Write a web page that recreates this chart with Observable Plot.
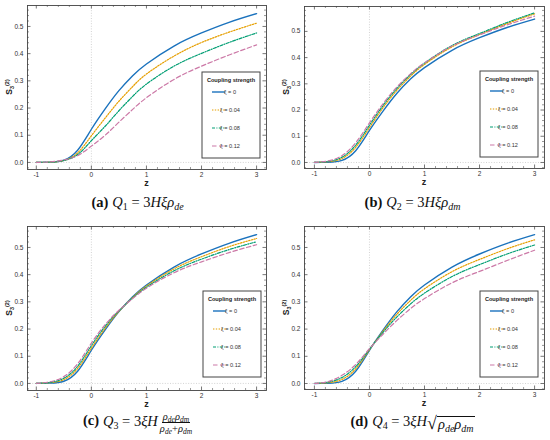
<!DOCTYPE html>
<html>
<head>
<meta charset="utf-8">
<script src="https://cdn.jsdelivr.net/npm/d3@7"></script>
<script src="https://cdn.jsdelivr.net/npm/@observablehq/plot@0.6"></script>
<style>
  body { margin: 0; background: #fff; }
  #root { position: relative; width: 550px; height: 440px; overflow: hidden; }
  .cell { position: absolute; width: 275px; height: 220px; }
  .cap { position: absolute; left: 0; top: 188px; width: 275px; height: 28px; display: flex; align-items: center; justify-content: center;
         font-family: "Liberation Serif", "DejaVu Serif", serif; font-size: 14.5px; color: #111; white-space: nowrap; }
  .cap b { font-weight: bold; margin-right: 4px; }
  .cap sub { font-size: 10px; vertical-align: -3px; line-height: 0; }
  .frac { display: inline-flex; flex-direction: column; align-items: center; vertical-align: middle; font-size: 10.5px; line-height: 11px; margin-left: 2px; }
  .frac .num { border-bottom: 0.8px solid #111; padding: 0 1px; }
  .frac sub { font-size: 7.5px; vertical-align: -2px; }
  .sqrt { display: inline-flex; align-items: flex-end; vertical-align: -3px; }
  .sqrt .rad { border-top: 0.8px solid #111; padding: 0 1px; line-height: 15px; }
</style>
</head>
<body>
<div id="root"></div>
<script>
// ---- data ----
const zValues = [-1, -0.75, -0.5, -0.25, 0, 0.25, 0.5, 0.75, 1, 1.5, 2, 2.5, 3];
const xiLabels = ["ξ = 0", "ξ = 0.04", "ξ = 0.08", "ξ = 0.12"];
const legendTitle = "Coupling strength";
const majorX = [-1, 0, 1, 2, 3];
const majorY = [0, 0.1, 0.2, 0.3, 0.4, 0.5];

// xi = 0 (same in all panels)
const xi0 = [0, 0.001, 0.008, 0.045, 0.122, 0.197, 0.264, 0.319, 0.362, 0.428, 0.476, 0.515, 0.547];

// (a) Q1
const q1Xi004 = [0, 0.001, 0.007, 0.035, 0.098, 0.163, 0.225, 0.279, 0.325, 0.391, 0.441, 0.479, 0.512];
const q1Xi008 = [0, 0.001, 0.007, 0.029, 0.08, 0.133, 0.19, 0.243, 0.288, 0.354, 0.401, 0.441, 0.476];
const q1Xi012 = [0, 0.002, 0.009, 0.025, 0.06, 0.1, 0.148, 0.195, 0.238, 0.305, 0.354, 0.395, 0.432];

// (b) Q2
const q2Xi004 = [0, 0.003, 0.015, 0.058, 0.133, 0.21, 0.276, 0.33, 0.374, 0.441, 0.488, 0.53, 0.567];
const q2Xi008 = [0, 0.004, 0.02, 0.066, 0.142, 0.218, 0.283, 0.336, 0.379, 0.446, 0.492, 0.534, 0.571];
const q2Xi012 = [0, 0.006, 0.026, 0.075, 0.151, 0.225, 0.288, 0.339, 0.38, 0.444, 0.487, 0.525, 0.558];

// (c) Q3
const q3Xi004 = [0, 0.003, 0.014, 0.055, 0.13, 0.203, 0.265, 0.316, 0.358, 0.421, 0.466, 0.503, 0.533];
const q3Xi008 = [0, 0.004, 0.019, 0.063, 0.139, 0.21, 0.267, 0.314, 0.354, 0.414, 0.457, 0.492, 0.521];
const q3Xi012 = [0, 0.006, 0.025, 0.072, 0.148, 0.216, 0.269, 0.312, 0.35, 0.407, 0.447, 0.481, 0.51];

// (d) Q4
const q4Xi004 = [0, 0.003, 0.015, 0.054, 0.124, 0.193, 0.255, 0.306, 0.348, 0.411, 0.456, 0.495, 0.528];
const q4Xi008 = [0, 0.005, 0.022, 0.062, 0.126, 0.189, 0.245, 0.293, 0.332, 0.393, 0.437, 0.476, 0.509];
const q4Xi012 = [0, 0.007, 0.03, 0.07, 0.128, 0.182, 0.232, 0.276, 0.312, 0.37, 0.412, 0.452, 0.49];

// ---- styles ----
const styles = [
  {color: "#1a72bd", width: 1.4, dash: null},
  {color: "#e69f00", width: 1.2, dash: "1.4,1.4"},
  {color: "#009e73", width: 1.2, dash: "3,1.4,1,1.4"},
  {color: "#cc79a7", width: 1.2, dash: "4.5,2.5"}
];

const panels = [
  {left: 0, top: 0, series: [xi0, q1Xi004, q1Xi008, q1Xi012],
   m: {l: 27, r: 9, t: 5, b: 21}, xd: [-1.16, 3.18], yd: [-0.026, 0.577], leg: {x: 202, y: 72},
   cap: '<span><b>(a)</b><i>Q</i><sub>1</sub>&nbsp;=&nbsp;3<i>Hξρ</i><sub><i>de</i></sub></span>'},
  {left: 275, top: 0, series: [xi0, q2Xi004, q2Xi008, q2Xi012],
   m: {l: 29, r: 6, t: 6, b: 22}, xd: [-1.18, 3.18], yd: [-0.023, 0.595], leg: {x: 205, y: 71},
   cap: '<span><b>(b)</b><i>Q</i><sub>2</sub>&nbsp;=&nbsp;3<i>Hξρ</i><sub><i>dm</i></sub></span>'},
  {left: 0, top: 220, series: [xi0, q3Xi004, q3Xi008, q3Xi012],
   m: {l: 27, r: 9, t: 6, b: 20}, xd: [-1.16, 3.18], yd: [-0.026, 0.577], leg: {x: 203, y: 71},
   cap: '<span><b>(c)</b><i>Q</i><sub>3</sub>&nbsp;=&nbsp;3<i>ξH</i><span class="frac"><span class="num"><i>ρ</i><sub><i>de</i></sub><i>ρ</i><sub><i>dm</i></sub></span><span><i>ρ</i><sub><i>de</i></sub>+<i>ρ</i><sub><i>dm</i></sub></span></span></span>'},
  {left: 275, top: 220, series: [xi0, q4Xi004, q4Xi008, q4Xi012],
   m: {l: 29, r: 6, t: 6, b: 21}, xd: [-1.18, 3.18], yd: [-0.022, 0.577], leg: {x: 205, y: 71},
   cap: '<span><b>(d)</b><i>Q</i><sub>4</sub>&nbsp;=&nbsp;3<i>ξH</i><span class="sqrt"><span style="font-size:18px;line-height:17px">√</span><span class="rad"><i>ρ</i><sub><i>de</i></sub><i>ρ</i><sub><i>dm</i></sub></span></span></span>'}
];

const W = 275, H = 190;
const root = document.getElementById("root");

for (const p of panels) {
  const {l, r, t, b} = p.m;
  const fw = W - l - r, fh = H - t - b;
  const minorX = d3.range(-1, 3.0001, 0.2).filter(v => v > p.xd[0] && Math.abs(v - Math.round(v)) > 1e-6);
  const minorY = d3.range(-0.02, p.yd[1], 0.02).filter(v => v > p.yd[0] && Math.abs(v * 10 - Math.round(v * 10)) > 1e-6);
  const lines = p.series.map((vals, i) =>
    Plot.line(zValues.map((z, j) => ({z, v: vals[j]})), {
      x: "z", y: "v", stroke: styles[i].color, strokeWidth: styles[i].width,
      strokeDasharray: styles[i].dash, curve: "natural"
    }));
  const tc = "#555";
  const svg = Plot.plot({
    width: W, height: H,
    marginLeft: l, marginRight: r, marginTop: t, marginBottom: b,
    x: {domain: p.xd, axis: null},
    y: {domain: p.yd, axis: null},
    style: {background: "transparent", fontFamily: "Liberation Sans, Arial, sans-serif"},
    marks: [
      Plot.ruleX([0], {stroke: "#c8c8c8", strokeWidth: 0.8, strokeDasharray: "1,1.6"}),
      Plot.ruleY([0], {stroke: "#c8c8c8", strokeWidth: 0.8, strokeDasharray: "1,1.6"}),
      ...lines,
      Plot.ruleX(majorX, {insetTop: fh - 3.5, stroke: tc, strokeWidth: 0.8}),
      Plot.ruleX(majorX, {insetBottom: fh - 3.5, stroke: tc, strokeWidth: 0.8}),
      Plot.ruleX(minorX, {insetTop: fh - 2, stroke: tc, strokeWidth: 0.6}),
      Plot.ruleX(minorX, {insetBottom: fh - 2, stroke: tc, strokeWidth: 0.6}),
      Plot.ruleY(majorY, {insetRight: fw - 3.5, stroke: tc, strokeWidth: 0.8}),
      Plot.ruleY(majorY, {insetLeft: fw - 3.5, stroke: tc, strokeWidth: 0.8}),
      Plot.ruleY(minorY, {insetRight: fw - 2, stroke: tc, strokeWidth: 0.6}),
      Plot.ruleY(minorY, {insetLeft: fw - 2, stroke: tc, strokeWidth: 0.6}),
      Plot.frame({stroke: "#444", strokeWidth: 0.9}),
      Plot.axisX({ticks: majorX, tickSize: 0, tickPadding: 3, tickFormat: d => String(d), fontSize: 6.5, fill: "#333", label: null}),
      Plot.axisY({ticks: majorY, tickSize: 0, tickPadding: 4, tickFormat: d3.format(".1f"), fontSize: 6.5, fill: "#333", label: null})
    ]
  });
  const s = d3.select(svg);
  // axis titles
  s.append("text").attr("x", l + fw / 2).attr("y", t + fh + 17)
    .attr("text-anchor", "middle").attr("font-family", "Liberation Sans, Arial, sans-serif")
    .attr("font-weight", "bold").attr("font-size", 9).attr("fill", "#222").text("z");
  const yl = s.append("text").attr("transform", `translate(${l - 15},${t + fh / 2}) rotate(-90)`)
    .attr("text-anchor", "middle").attr("font-family", "Liberation Sans, Arial, sans-serif")
    .attr("font-weight", "bold").attr("font-size", 8.5).attr("fill", "#222");
  yl.append("tspan").text("S");
  yl.append("tspan").attr("font-size", 5.5).attr("dy", 2).text("3");
  yl.append("tspan").attr("font-size", 5.5).attr("dy", -5).text("(2)");
  // legend
  const g = s.append("g").attr("transform", `translate(${p.leg.x},${p.leg.y})`)
    .attr("font-family", "Liberation Sans, Arial, sans-serif");
  g.append("rect").attr("width", 58).attr("height", 86).attr("fill", "#fff")
    .attr("stroke", "#444").attr("stroke-width", 1);
  g.append("text").attr("x", 29).attr("y", 10).attr("text-anchor", "middle")
    .attr("font-weight", "bold").attr("font-size", 5.6).attr("fill", "#222").text(legendTitle);
  xiLabels.forEach((lab, i) => {
    const y = 20 + i * 18;
    g.append("line").attr("x1", 10).attr("x2", 23).attr("y1", y).attr("y2", y)
      .attr("stroke", styles[i].color).attr("stroke-width", styles[i].width)
      .attr("stroke-dasharray", styles[i].dash);
    g.append("text").attr("x", 28).attr("y", y).attr("dy", "0.35em")
      .attr("font-size", 5.6).attr("fill", "#333").text(lab);
  });

  const cell = document.createElement("div");
  cell.className = "cell";
  cell.style.left = p.left + "px";
  cell.style.top = p.top + "px";
  cell.appendChild(svg);
  const cap = document.createElement("div");
  cap.className = "cap";
  cap.innerHTML = p.cap;
  cell.appendChild(cap);
  root.appendChild(cell);
}
</script>
</body>
</html>
